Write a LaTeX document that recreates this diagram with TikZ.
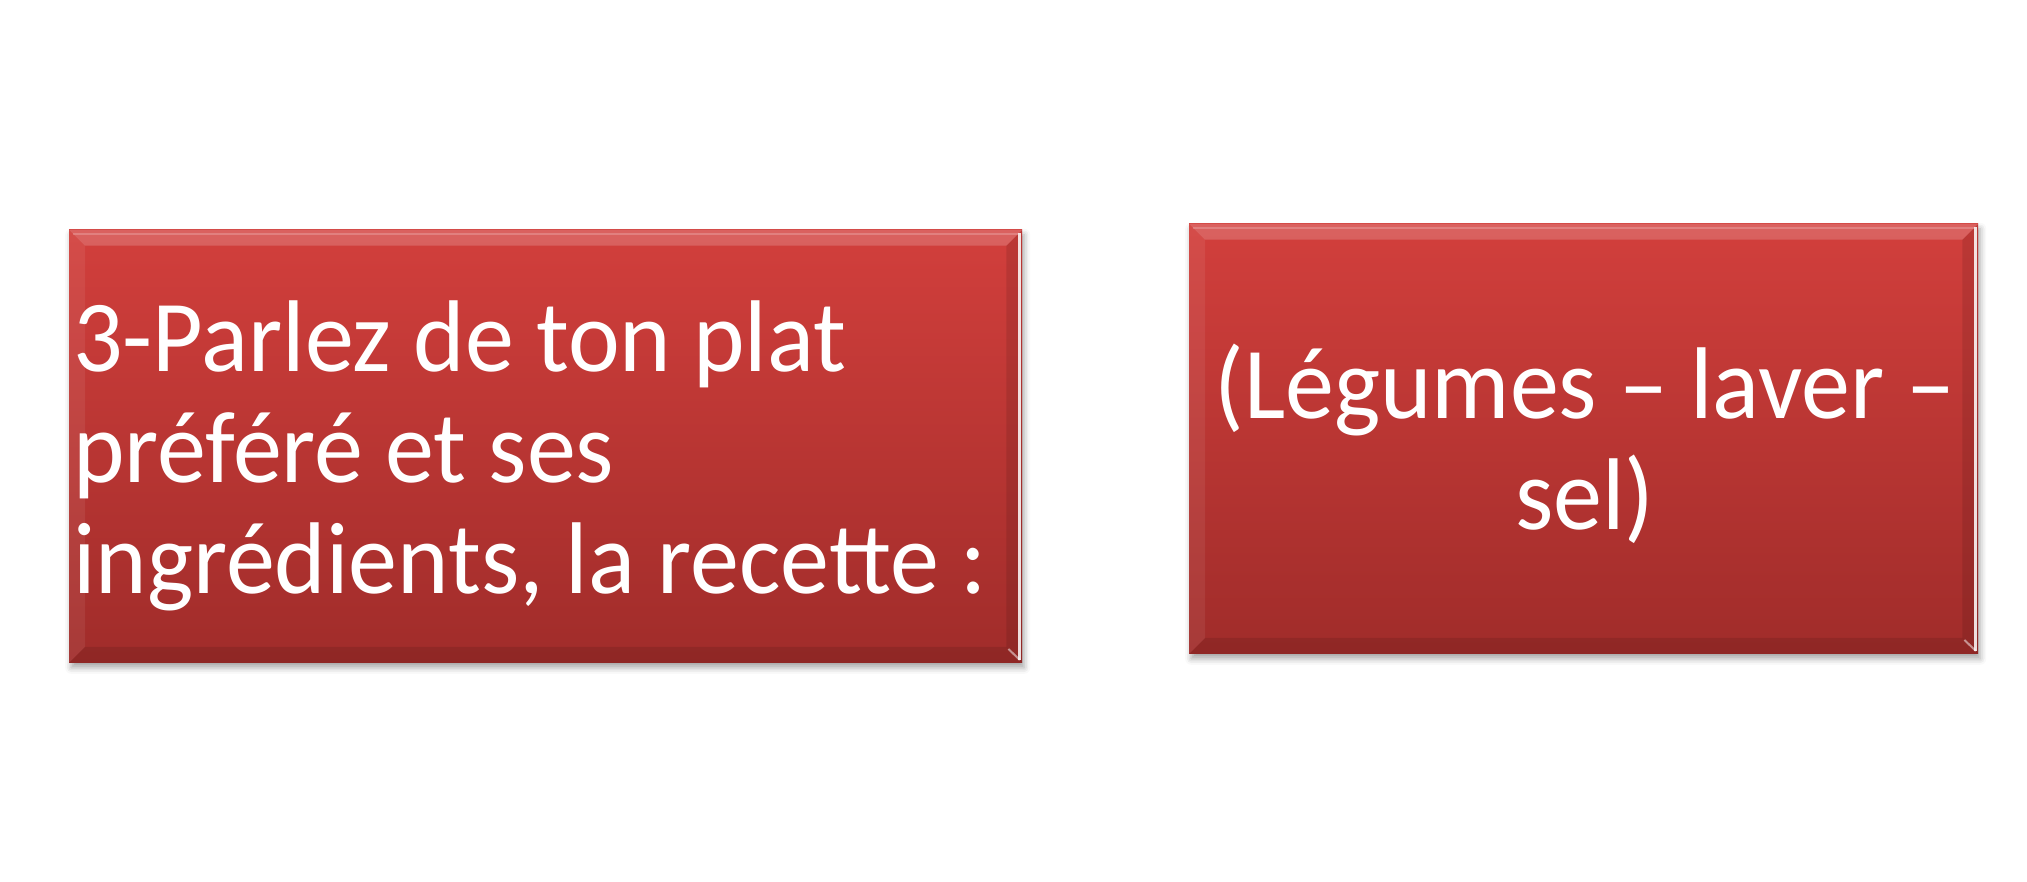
\documentclass[tikz,border=0pt]{standalone}
\usepackage{fontspec}
\setmainfont{Carlito}
\usetikzlibrary{calc,shadows.blur}
\definecolor{redtop}{RGB}{210,63,60}
\definecolor{redbot}{RGB}{160,44,42}
\tikzset{
  redbox/.style={rectangle, inner sep=0pt, top color=redtop, bottom color=redbot, draw=none,
    blur shadow={shadow xshift=2pt, shadow yshift=-5pt, shadow blur radius=6pt, shadow opacity=35}},
  boxtext/.style={text=white, inner sep=0pt, font=\fontsize{98}{107}\selectfont},
}
\newcommand\mybevel[1]{%
  \fill[white,opacity=0.18] (#1.north west) -- (#1.north east) -- ($(#1.north east)+(-16,-16)$) -- ($(#1.north west)+(16,-16)$) -- cycle;
  \fill[white,opacity=0.07] (#1.north west) -- ($(#1.north west)+(16,-16)$) -- ($(#1.south west)+(16,16)$) -- (#1.south west) -- cycle;
  \fill[black,opacity=0.10] (#1.north east) -- (#1.south east) -- ($(#1.south east)+(-16,16)$) -- ($(#1.north east)+(-16,-16)$) -- cycle;
  \fill[black,opacity=0.10] (#1.south west) -- ($(#1.south west)+(16,16)$) -- ($(#1.south east)+(-16,16)$) -- (#1.south east) -- cycle;
  \draw[white,opacity=0.85,line width=3pt] ($(#1.north east)+(-2.5,-3)$) -- ($(#1.south east)+(-2.5,3)$);
  \draw[white,opacity=0.5,line width=2pt] ($(#1.south east)+(-2.5,3)$) -- ($(#1.south east)+(-14,14)$);
  \draw[white,opacity=0.2,line width=2pt] ($(#1.north west)+(4,-4)$) -- ($(#1.north east)+(-4,-4)$);
}
\begin{document}
\begin{tikzpicture}[x=1pt,y=1pt]
  \useasboundingbox (0,0) rectangle (2027,881);
  \node[redbox, minimum width=953pt, minimum height=433pt, anchor=south west] (b1) at (69,218) {};
  \node[redbox, minimum width=789pt, minimum height=430pt, anchor=south west] (b2) at (1189,227) {};
  \mybevel{b1}
  \mybevel{b2}
  \node[boxtext, align=left, anchor=base west, yscale=1.04, transform shape] (t1) at (73,287)
    {3-Parlez de ton plat\\préféré et ses\\ingrédients, la recette :};
  \node[boxtext, align=center, anchor=base, yscale=1.04, transform shape] (t2) at (1585,351)
    {(Légumes – laver –\\sel)};
\end{tikzpicture}
\end{document}
